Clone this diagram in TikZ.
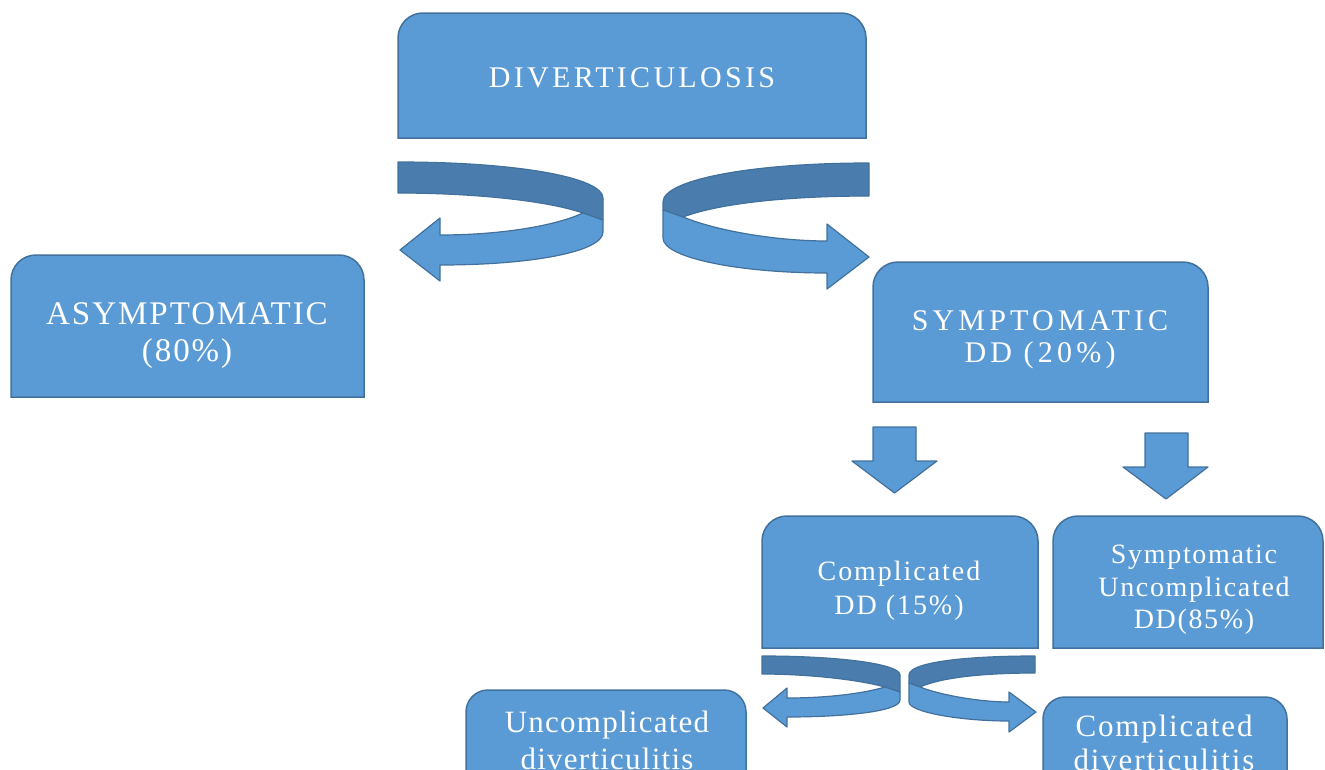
\documentclass[tikz,border=0pt]{standalone}
\usepackage{fontspec}
\setmainfont{Liberation Serif}
\usetikzlibrary{backgrounds}
\definecolor{boxfill}{HTML}{5B9BD5}
\definecolor{boxline}{HTML}{41719C}
\definecolor{darkband}{HTML}{4A7DAD}
\tikzset{
  box/.style={fill=boxfill, draw=boxline, line width=1.5pt},
  band/.style={fill=darkband, draw=boxline, line width=1.2pt, line join=round},
  ribbon/.style={fill=boxfill, draw=boxline, line width=1.2pt, line join=round},
  lbl/.style={text=white, align=center, inner sep=0pt},
}
\newcommand{\lblfont}[3]{\fontsize{#1}{#2}\selectfont\addfontfeatures{LetterSpace=#3}}
\begin{document}
\begin{tikzpicture}[x=1pt,y=-1pt]
\useasboundingbox (0,0) rectangle (1325,769);
\clip (0,0) rectangle (1325,769);
% ---- boxes (round top corners, square bottom)
\path[box] (398,138) [rounded corners=25pt] -- (398,13) -- (866,13) [sharp corners] -- (866,138) -- cycle;
\path[box] (11,397) [rounded corners=25pt] -- (11,255) -- (364,255) [sharp corners] -- (364,397) -- cycle;
\path[box] (873,402) [rounded corners=25pt] -- (873,262) -- (1208,262) [sharp corners] -- (1208,402) -- cycle;
\path[box] (762,648) [rounded corners=25pt] -- (762,516) -- (1038,516) [sharp corners] -- (1038,648) -- cycle;
\path[box] (1053,648) [rounded corners=25pt] -- (1053,516) -- (1323,516) [sharp corners] -- (1323,648) -- cycle;
\path[box] (466,800) [rounded corners=22pt] -- (466,690) -- (746,690) [sharp corners] -- (746,800) -- cycle;
\path[box] (1043,800) [rounded corners=22pt] -- (1043,697) -- (1287,697) [sharp corners] -- (1287,800) -- cycle;
% ---- texts
\node[lbl, font=\lblfont{30}{34}{11}] (t1) at (632,78) {DIVERTICULOSIS};
\node[lbl, font=\lblfont{33}{37}{6}] (t2) at (187,336) {ASYMPTOMATIC\\(80\%)};
\node[lbl, font=\lblfont{30}{32}{14}] (t3) at (1040,340) {SYMPTOMATIC\\DD (20\%)};
\node[lbl, font=\lblfont{28}{34}{7}] (t4) at (899,591) {Complicated\\DD (15\%)};
\node[lbl, font=\lblfont{28}{32.5}{6}] (t5) at (1194,590) {Symptomatic\\Uncomplicated\\DD(85\%)};
\node[lbl, font=\lblfont{31}{37}{4}] (t6) at (607,740) {Uncomplicated\\diverticulitis};
\node[lbl, font=\lblfont{31}{34}{6}] (t7) at (1164,743) {Complicated\\diverticulitis};
% ---- top curved arrows
% left
\path[band] (398,162) .. controls (520,162) and (603,178) .. (603,198) -- (603,220) -- (583,213) .. controls (545,200) and (470,193) .. (398,193) -- cycle;
\path[ribbon] (583,213) -- (603,220) -- (603,232) .. controls (603,252) and (530,265) .. (440,265) -- (440,281) -- (400,250) -- (440,218) -- (440,235) .. controls (500,235) and (555,226) .. (583,213) -- cycle;
% right
\path[band] (869,163) -- (869,196) .. controls (790,196) and (720,203) .. (683,217) -- (663,210) -- (663,202) .. controls (663,180) and (750,163) .. (869,163) -- cycle;
\path[ribbon] (663,210) -- (683,217) .. controls (720,232) and (780,241) .. (827,241) -- (827,224) -- (869,257) -- (827,289) -- (827,273) .. controls (740,273) and (663,258) .. (663,238) -- cycle;
% ---- down arrows
\path[ribbon] (873,427) -- (916,427) -- (916,461) -- (937,461) -- (894.5,493) -- (852,461) -- (873,461) -- cycle;
\path[ribbon] (1145,433) -- (1188,433) -- (1188,467) -- (1208,467) -- (1166,499) -- (1123,467) -- (1145,467) -- cycle;
% ---- bottom curved arrows
\path[band] (762,656) .. controls (840,656) and (900,664) .. (900,675) -- (900,692) -- (885,687) .. controls (860,680) and (810,674) .. (762,674) -- cycle;
\path[ribbon] (885,687) -- (900,692) -- (900,700) .. controls (900,712) and (840,717) .. (787,717) -- (787,727) -- (763,708) -- (787,688) -- (787,698) .. controls (830,698) and (865,693) .. (885,687) -- cycle;
\path[band] (1035,656) -- (1035,673) .. controls (980,673) and (940,678) .. (920,687) -- (909,683) -- (909,675) .. controls (909,663) and (960,656) .. (1035,656) -- cycle;
\path[ribbon] (909,683) -- (920,687) .. controls (940,695) and (980,702) .. (1009,702) -- (1009,692) -- (1036,712) -- (1009,732) -- (1009,721) .. controls (960,721) and (909,712) .. (909,702) -- cycle;
\end{tikzpicture}
\end{document}
